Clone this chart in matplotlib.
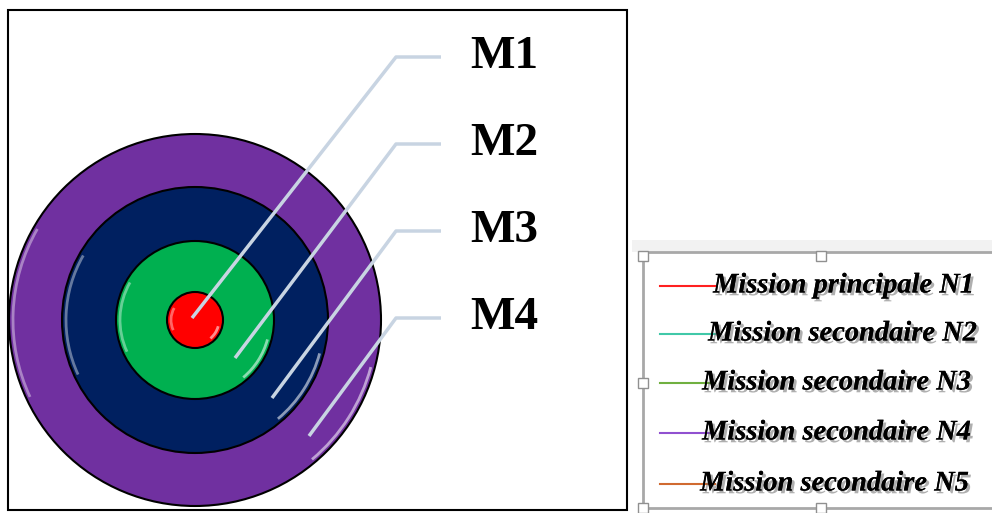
import numpy as np
import matplotlib.pyplot as plt
from matplotlib.patches import Circle, Rectangle, Arc
import matplotlib.patheffects as pe

# ring data (outer to inner)
ring_labels = ["M4", "M3", "M2", "M1"]
ring_radii = [186, 133, 79, 28]
ring_colors = ["#7030a0", "#002060", "#00b050", "#ff0000"]
center = (195, 320)

# leader lines: anchor inside ring, label y
anchor_pts = [(309, 436), (272, 398), (235, 358), (192, 318)]
label_y = [318, 231, 144, 57]

legend_labels = ["Mission principale N1", "Mission secondaire N2",
                 "Mission secondaire N3", "Mission secondaire N4",
                 "Mission secondaire N5"]
legend_colors = ["#ff2020", "#40c8a8", "#70b040", "#9050d0", "#d06a30"]

fig = plt.figure(figsize=(9.92, 5.13), dpi=100)
ax = fig.add_axes([0, 0, 1, 1])
ax.set_xlim(0, 992)
ax.set_ylim(513, 0)
ax.axis("off")

# left frame
ax.add_patch(Rectangle((8, 10), 619, 500, fill=False, ec="black", lw=1.5))

# rings (y axis is inverted, so positive angles point downward)
for r, c in zip(ring_radii, ring_colors):
    ax.add_patch(Circle(center, r, fc=c, ec="black", lw=1.5, zorder=2))
    d = 2 * (r - 4)
    ax.add_patch(Arc(center, d, d, theta1=155, theta2=210,
                     color="white", alpha=0.4, lw=2, zorder=3))
    ax.add_patch(Arc(center, d, d, theta1=15, theta2=50,
                     color="white", alpha=0.55, lw=2, zorder=3))

# leader lines and labels
for (ax0, ay0), ly, lab in zip(anchor_pts, label_y, ring_labels):
    ax.plot([ax0, 396, 441], [ay0, ly, ly], color="#c8d4e2", lw=2.5,
            solid_capstyle="butt", zorder=4)
    ax.text(470, ly, lab, fontsize=34, fontweight="bold",
            family="Liberation Serif", va="center", ha="left", zorder=5)

# legend box on the right
ax.add_patch(Rectangle((632, 240), 360, 12, fc="#f2f2f2", ec="none"))
ax.add_patch(Rectangle((643, 252), 360, 256, fc="white", ec="#a8a8a8", lw=2))
for hx, hy in [(643, 256), (821, 256), (643, 383), (643, 508), (821, 508)]:
    ax.add_patch(Rectangle((hx - 5, hy - 5), 10, 10, fc="white",
                           ec="#909090", lw=1, zorder=6))

leg_y = [286, 334, 383, 433, 484]
shadow = [pe.withSimplePatchShadow(offset=(2, -2), shadow_rgbFace="#606060",
                                   alpha=0.5), pe.Normal()]
for y, lab, c, x0 in zip(leg_y, legend_labels, legend_colors,
                         [713, 708, 702, 702, 700]):
    ax.plot([660, 715], [y, y], color=c, lw=1.5, zorder=3)
    ax.text(x0, y, lab, fontsize=20.5, fontweight="bold", style="italic",
            family="Liberation Serif", va="center", ha="left", zorder=4,
            path_effects=shadow)

fig.savefig("out.png", dpi=100)
